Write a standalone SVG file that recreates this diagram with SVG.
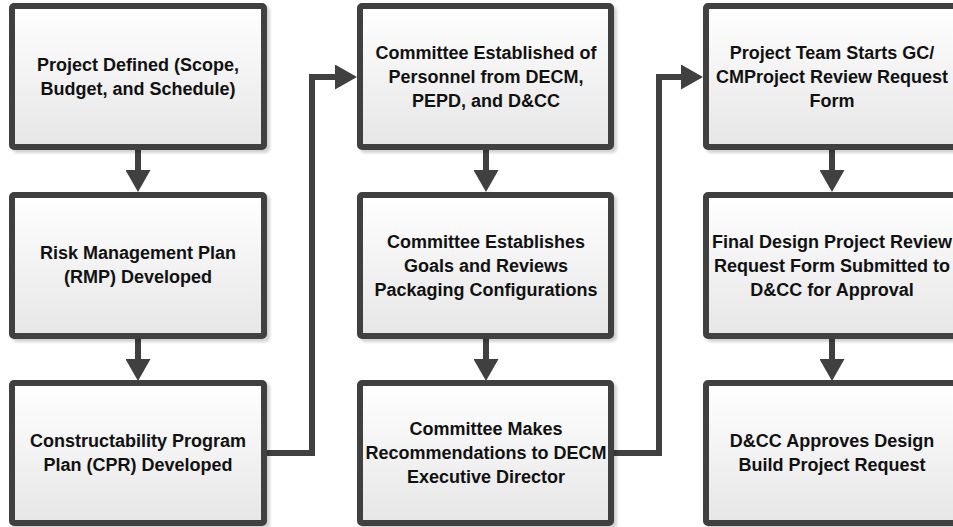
<svg xmlns="http://www.w3.org/2000/svg" width="953" height="527" viewBox="0 0 953 527">
<defs>
<linearGradient id="g" x1="0" y1="0" x2="0" y2="1">
<stop offset="0" stop-color="#ffffff"/>
<stop offset="1" stop-color="#e6e6e6"/>
</linearGradient>
<filter id="sh" x="-5%" y="-5%" width="115%" height="115%">
<feGaussianBlur in="SourceAlpha" stdDeviation="1.5"/>
<feOffset dx="3" dy="3" result="b"/>
<feComponentTransfer><feFuncA type="linear" slope="0.18"/></feComponentTransfer>
<feMerge><feMergeNode/><feMergeNode in="SourceGraphic"/></feMerge>
</filter>
<marker id="ah" markerUnits="userSpaceOnUse" markerWidth="23" markerHeight="25" refX="12" refY="12.5" orient="auto">
<path d="M0,0 L22,12.5 L0,25 Z" fill="#404040"/>
</marker>
</defs>
<style>
.box{fill:url(#g);stroke:#404040;stroke-width:6;filter:url(#sh)}
.t{font-family:"Liberation Sans",Arial,sans-serif;font-weight:bold;font-size:18px;fill:#111;text-anchor:middle}
.c{fill:none;stroke:#404040;stroke-width:6;stroke-linejoin:miter;marker-end:url(#ah)}
</style>
<rect width="953" height="527" fill="#ffffff"/>
<g id="connectors">
<path class="c" d="M138,147 V182"/>
<path class="c" d="M138,336 V371"/>
<path class="c" d="M486,147 V182"/>
<path class="c" d="M486,336 V371"/>
<path class="c" d="M832,147 V182"/>
<path class="c" d="M832,336 V371"/>
<path class="c" d="M264,453 H312 V77 H347"/>
<path class="c" d="M611,453 H659 V77 H693"/>
</g>
<g id="n1"><rect class="box" x="12" y="6" width="252" height="141" rx="2"/>
<text class="t" x="138" y="71">Project Defined (Scope,</text>
<text class="t" x="138" y="95">Budget, and Schedule)</text></g>
<g id="n2"><rect class="box" x="12" y="195" width="252" height="141" rx="2"/>
<text class="t" x="138" y="259">Risk Management Plan</text>
<text class="t" x="138" y="283">(RMP) Developed</text></g>
<g id="n3"><rect class="box" x="12" y="383" width="252" height="140" rx="2"/>
<text class="t" x="138" y="447">Constructability Program</text>
<text class="t" x="138" y="471">Plan (CPR) Developed</text></g>
<g id="n4"><rect class="box" x="360" y="6" width="251" height="141" rx="2"/>
<text class="t" x="486" y="59">Committee Established of</text>
<text class="t" x="486" y="83">Personnel from DECM,</text>
<text class="t" x="486" y="107">PEPD, and D&amp;CC</text></g>
<g id="n5"><rect class="box" x="360" y="195" width="251" height="141" rx="2"/>
<text class="t" x="486" y="248">Committee Establishes</text>
<text class="t" x="486" y="272">Goals and Reviews</text>
<text class="t" x="486" y="296">Packaging Configurations</text></g>
<g id="n6"><rect class="box" x="360" y="383" width="251" height="140" rx="2"/>
<text class="t" x="486" y="435">Committee Makes</text>
<text class="t" x="486" y="459">Recommendations to DECM</text>
<text class="t" x="486" y="483">Executive Director</text></g>
<g id="n7"><rect class="box" x="706" y="6" width="252" height="141" rx="2"/>
<text class="t" x="832" y="59">Project Team Starts GC/</text>
<text class="t" x="832" y="83">CMProject Review Request</text>
<text class="t" x="832" y="107">Form</text></g>
<g id="n8"><rect class="box" x="706" y="195" width="252" height="141" rx="2"/>
<text class="t" x="832" y="248">Final Design Project Review</text>
<text class="t" x="832" y="272">Request Form Submitted to</text>
<text class="t" x="832" y="296">D&amp;CC for Approval</text></g>
<g id="n9"><rect class="box" x="706" y="383" width="252" height="140" rx="2"/>
<text class="t" x="832" y="447">D&amp;CC Approves Design</text>
<text class="t" x="832" y="471">Build Project Request</text></g>
</svg>
